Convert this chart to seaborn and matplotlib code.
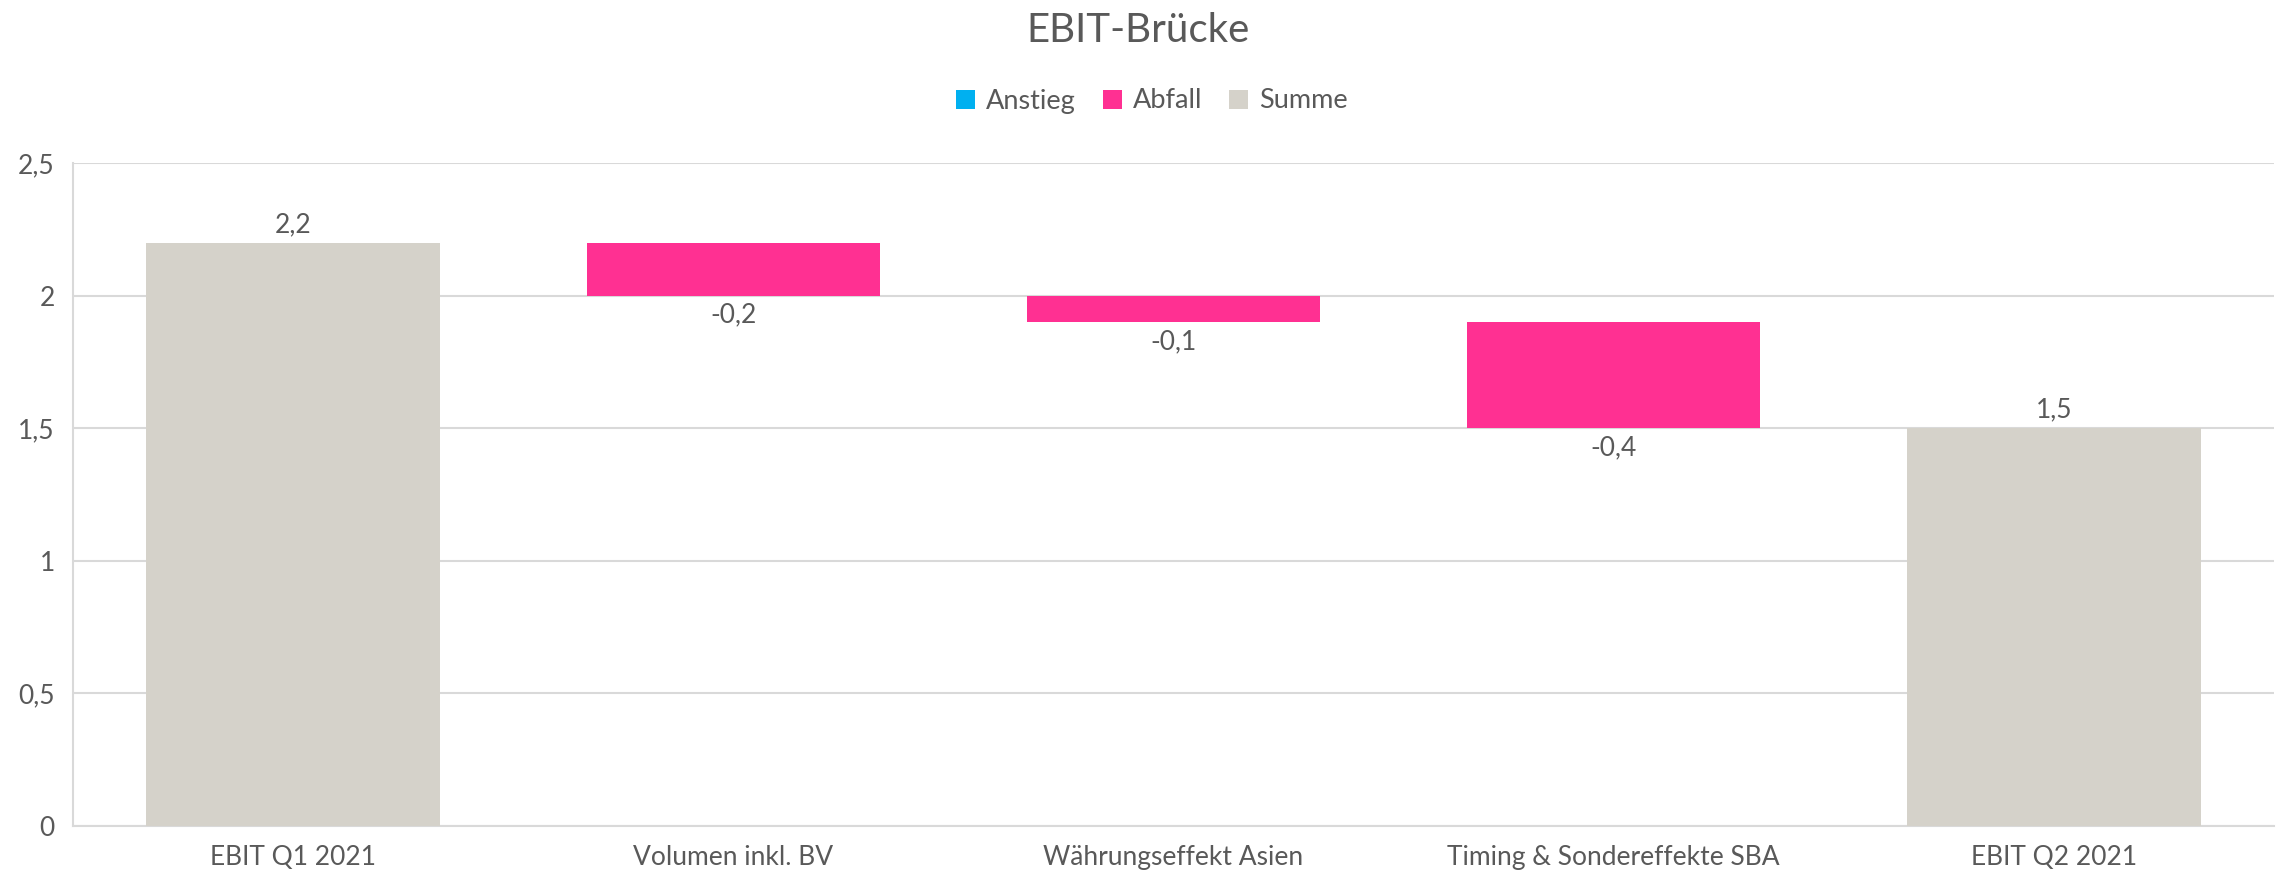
import matplotlib
matplotlib.use("Agg")
import matplotlib.pyplot as plt
from matplotlib.patches import Patch
import seaborn as sns
import pandas as pd
import numpy as np

# ---- data ----
categories = ["EBIT Q1 2021", "Volumen inkl. BV", "Währungseffekt Asien",
              "Timing & Sondereffekte SBA", "EBIT Q2 2021"]
values = [2.2, -0.2, -0.1, -0.4, 1.5]
kinds = ["Summe", "Abfall", "Abfall", "Abfall", "Summe"]
legend_labels = ["Anstieg", "Abfall", "Summe"]
y_ticks = [0, 0.5, 1, 1.5, 2, 2.5]
y_tick_labels = ["0", "0,5", "1", "1,5", "2", "2,5"]
title = "EBIT-Brücke"

colors = {"Anstieg": "#00B0F0", "Abfall": "#FF3092", "Summe": "#D5D2CA"}
text_color = "#595959"
grid_color = "#D9D9D9"

# waterfall geometry from values
bottoms, heights = [], []
running = 0.0
for v, k in zip(values, kinds):
    if k == "Summe":
        bottoms.append(0.0)
        heights.append(v)
        running = v
    else:
        new = running + v
        bottoms.append(min(running, new))
        heights.append(abs(v))
        running = new

df = pd.DataFrame({"cat": categories, "value": values, "kind": kinds,
                   "bottom": bottoms, "height": heights})

sns.set_theme(style="white")
plt.rcParams["font.family"] = ["Lato", "DejaVu Sans"]

fig = plt.figure(figsize=(22.77, 8.82), dpi=100)
ax = fig.add_axes([0.032, 0.064, 0.9667, 0.751])

for kind in ["Summe", "Abfall", "Anstieg"]:
    sub = df[df["kind"] == kind]
    if sub.empty:
        continue
    sns.barplot(data=sub, x="cat", y="height", order=categories, ax=ax,
                color=colors[kind], saturation=1, width=0.666,
                bottom=sub["bottom"].to_numpy(), linewidth=0, zorder=3)

ax.set_xlim(-0.5, len(categories) - 0.5)
ax.set_ylim(0, 2.5)
ax.set_yticks(y_ticks)
ax.set_yticklabels(y_tick_labels)
ax.set_xlabel("")
ax.set_ylabel("")
ax.yaxis.grid(True, color=grid_color, linewidth=1.5, zorder=0)
ax.set_axisbelow(True)
for s in ["top", "right"]:
    ax.spines[s].set_visible(False)
for s in ["left", "bottom"]:
    ax.spines[s].set_color(grid_color)
    ax.spines[s].set_linewidth(1.5)
ax.tick_params(axis="y", length=0, pad=13, labelsize=19, labelcolor=text_color)
ax.tick_params(axis="x", length=0, pad=14, labelsize=19, labelcolor=text_color)

# data labels
for i, row in df.iterrows():
    lab = f"{row['value']:.1f}".replace(".", ",")
    if row["kind"] == "Summe" or row["value"] >= 0:
        y = row["bottom"] + row["height"]
        ax.annotate(lab, (i, y), xytext=(0, 4), textcoords="offset points",
                    ha="center", va="bottom", fontsize=19, color=text_color)
    else:
        y = row["bottom"]
        ax.annotate(lab, (i, y), xytext=(0, -5), textcoords="offset points",
                    ha="center", va="top", fontsize=19, color=text_color)

fig.text(0.5, 1 - 30 / 882, title, ha="center", va="center",
         fontsize=29, color=text_color)

handles = [Patch(facecolor=colors[k], edgecolor="none", label=k) for k in legend_labels]
fig.legend(handles=handles, loc="center", bbox_to_anchor=(0.506, 1 - 101 / 882),
           ncol=3, frameon=False, fontsize=19.5, labelcolor=text_color,
           handlelength=0.7, handleheight=0.7, handletextpad=0.4,
           columnspacing=1.0)

fig.savefig("out.png", dpi=100)
